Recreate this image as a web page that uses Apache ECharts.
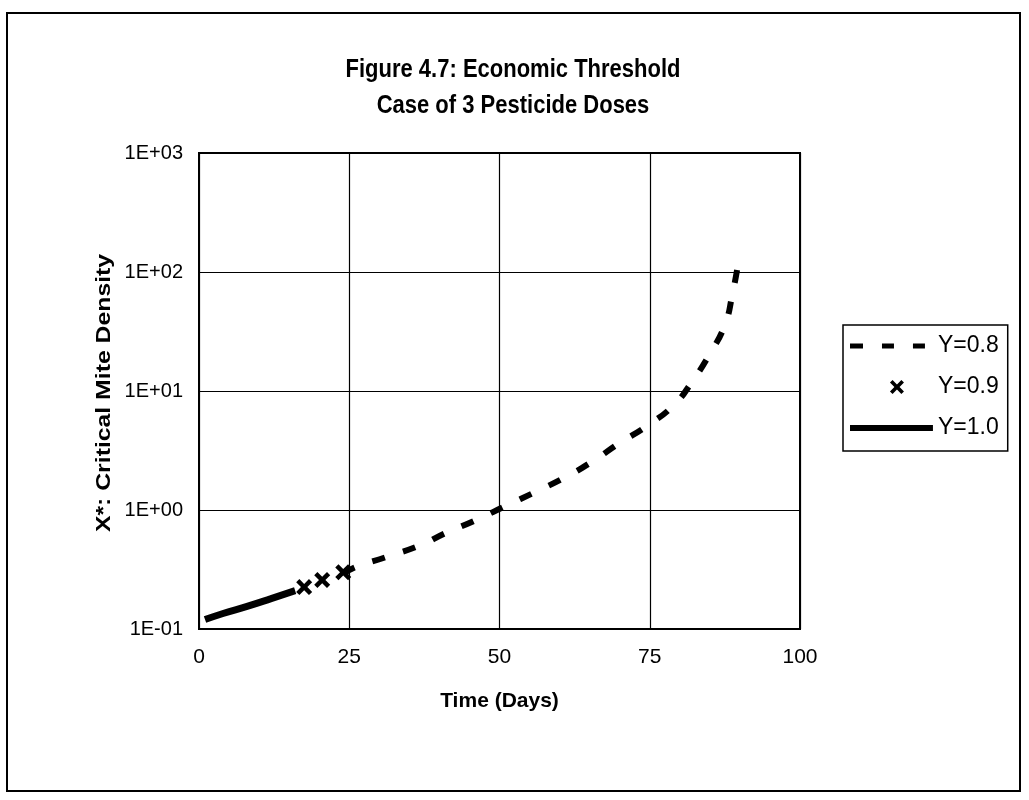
<!DOCTYPE html>
<html>
<head>
<meta charset="utf-8">
<script src="https://cdn.jsdelivr.net/npm/echarts@6/dist/echarts.min.js"></script>
<style>
  html, body { margin: 0; padding: 0; background: #fff; }
  #frame { position: absolute; left: 6px; top: 12px; width: 1015px; height: 780px; border: 2px solid #000; box-sizing: border-box; }
  #chart { position: absolute; left: 0; top: 0; width: 1029px; height: 800px; }
</style>
</head>
<body>
<div id="frame"></div>
<div id="chart"></div>
<script>
// Y=0.8 (dashed) curve
const daysY08 = [24, 26, 31, 37, 41, 46, 51, 56, 61, 65.5, 70, 74.5, 79, 82, 85, 87.5, 88.7, 89.8]
const densY08 = [0.29, 0.33, 0.40, 0.51, 0.64, 0.82, 1.08, 1.42, 1.89, 2.57, 3.66, 5.08, 7.6, 11.9, 20.5, 36, 63, 125]
// Y=0.9 markers
const daysY09 = [17.5, 20.5, 24]
const densY09 = [0.225, 0.258, 0.30]
// Y=1.0 solid line
const daysY10 = [1, 4, 8, 12, 16]
const densY10 = [0.12, 0.135, 0.155, 0.18, 0.21]

const xTicks = [0, 25, 50, 75, 100]
const yTickLabels = { '0.1': '1E-01', '1': '1E+00', '10': '1E+01', '100': '1E+02', '1000': '1E+03' }
const titleLines = ['Figure 4.7: Economic Threshold', 'Case of 3 Pesticide Doses']

const pairs = (xs, ys) => xs.map((x, i) => [x, ys[i]])
const font = 'Liberation Sans, Arial, sans-serif'

// scatter marker and legend icons (legend icons share an 83x14 box)
const xMark = 'path://M0,2 L2,0 L5,3 L8,0 L10,2 L7,5 L10,8 L8,10 L5,7 L2,10 L0,8 L3,5 Z'
const box = 'M0,0h0.01v0.01h-0.01z M83,14h0.01v0.01h-0.01z '
const iconDash = 'path://' + box + 'M0,4.5h13v5h-13z M32,4.5h12v5h-12z M63,4.5h12v5h-12z'
const iconX = 'path://' + box + 'M40,2.6 L42.6,0 L47,4.4 L51.4,0 L54,2.6 L49.6,7 L54,11.4 L51.4,14 L47,9.6 L42.6,14 L40,11.4 L44.4,7 Z'
const iconSolid = 'path://' + box + 'M0,4h83v6h-83z'

const chart = echarts.init(document.getElementById('chart'))
chart.setOption({
  animation: false,
  graphic: [
    { type: 'text', x: 513, y: 70, scaleY: 1.15,
      style: { text: titleLines[0], font: 'bold 22px ' + font, fill: '#000', textAlign: 'center', textVerticalAlign: 'middle' } },
    { type: 'text', x: 513, y: 106, scaleY: 1.15,
      style: { text: titleLines[1], font: 'bold 22px ' + font, fill: '#000', textAlign: 'center', textVerticalAlign: 'middle' } },
    { type: 'text', x: 104, y: 393, rotation: Math.PI / 2, scaleX: 1.18,
      style: { text: 'X*: Critical Mite Density', font: 'bold 21px ' + font, fill: '#000', textAlign: 'center', textVerticalAlign: 'middle' } }
  ],
  legend: {
    orient: 'vertical', left: 843, top: 325,
    itemWidth: 83, itemHeight: 14, itemGap: 15,
    padding: [8, 9, 10, 7],
    borderColor: '#000', borderWidth: 1.5,
    itemStyle: { borderWidth: 0 },
    textStyle: { fontFamily: font, fontSize: 23, lineHeight: 26, color: '#000' },
    data: [
      { name: 'Y=0.8', icon: iconDash },
      { name: 'Y=0.9', icon: iconX },
      { name: 'Y=1.0', icon: iconSolid }
    ]
  },
  grid: { left: 199, right: 229, top: 153, bottom: 171, show: true, borderColor: '#000', borderWidth: 2 },
  xAxis: {
    type: 'value', min: 0, max: 100, interval: 25,
    name: 'Time (Days)', nameLocation: 'middle', nameGap: 62,
    nameTextStyle: { fontFamily: font, fontWeight: 'bold', fontSize: 21, color: '#000' },
    axisLine: { lineStyle: { color: '#000', width: 2 } },
    axisTick: { show: false },
    axisLabel: { fontFamily: font, fontSize: 21, color: '#000', margin: 18,
      formatter: v => xTicks.includes(v) ? String(v) : '' },
    splitLine: { show: true, lineStyle: { color: '#000', width: 1.2 } }
  },
  yAxis: {
    type: 'log', logBase: 10, min: 0.1, max: 1000,
    axisLine: { lineStyle: { color: '#000', width: 2 } },
    axisTick: { show: false },
    axisLabel: { fontFamily: font, fontSize: 20, color: '#000', margin: 16,
      formatter: v => yTickLabels[String(+v.toPrecision(3))] || '' },
    splitLine: { show: true, lineStyle: { color: '#000', width: 1.2 } }
  },
  series: [
    {
      name: 'Y=0.8', type: 'line', data: pairs(daysY08, densY08),
      showSymbol: false, symbol: 'none', smooth: true,
      lineStyle: { color: '#000', width: 6, type: [13, 19] },
      itemStyle: { color: '#000' }
    },
    {
      name: 'Y=0.9', type: 'scatter', data: pairs(daysY09, densY09),
      symbol: xMark, symbolSize: 16,
      itemStyle: { color: '#000', opacity: 1 }
    },
    {
      name: 'Y=1.0', type: 'line', data: pairs(daysY10, densY10),
      showSymbol: false, symbol: 'none', smooth: true,
      lineStyle: { color: '#000', width: 7 },
      itemStyle: { color: '#000' }
    }
  ]
})
</script>
</body>
</html>
